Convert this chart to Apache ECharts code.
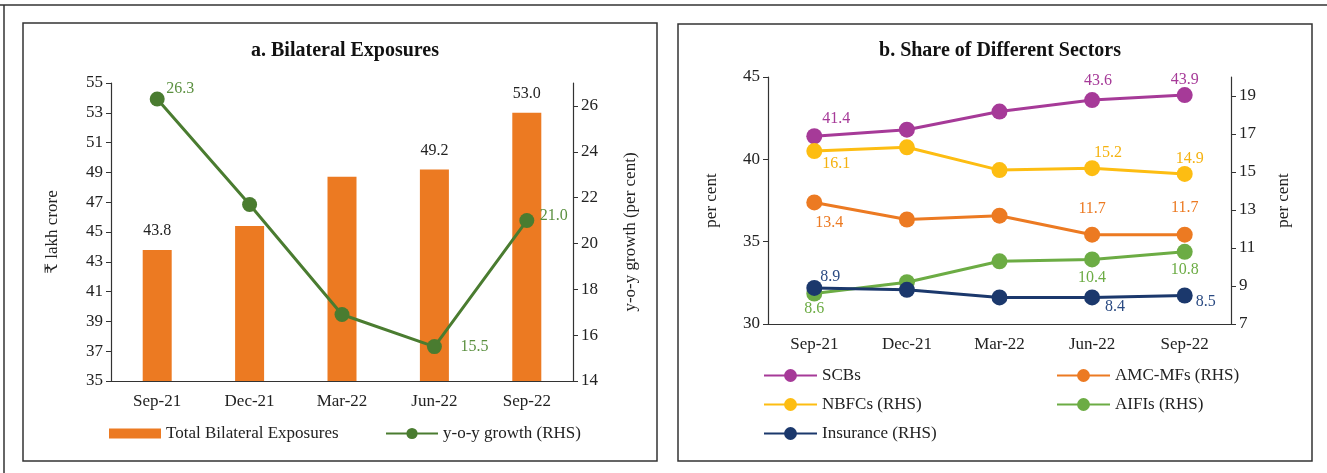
<!DOCTYPE html>
<html>
<head>
<meta charset="utf-8">
<script src="https://cdn.jsdelivr.net/npm/echarts@6/dist/echarts.min.js"></script>
<style>
  html, body { margin: 0; padding: 0; background: #fff; }
  #main { width: 1327px; height: 473px; }
</style>
</head>
<body>
<div id="main"></div>
<script>
// data
const categories = ['Sep-21', 'Dec-21', 'Mar-22', 'Jun-22', 'Sep-22']
const totalExposures = [43.8, 45.4, 48.7, 49.2, 53.0]
const yoyGrowth = [26.3, 21.7, 16.9, 15.5, 21.0]
const scbs = [41.4, 41.8, 42.9, 43.6, 43.9]
const nbfcs = [16.1, 16.3, 15.1, 15.2, 14.9]
const amcMfs = [13.4, 12.5, 12.7, 11.7, 11.7]
const aifis = [8.6, 9.2, 10.3, 10.4, 10.8]
const insurance = [8.9, 8.8, 8.4, 8.4, 8.5]
const ticksA = [35, 37, 39, 41, 43, 45, 47, 49, 51, 53, 55]
const ticksARight = [14, 16, 18, 20, 22, 24, 26]
const ticksB = [30, 35, 40, 45]
const ticksBRight = [7, 9, 11, 13, 15, 17, 19]

const FONT = '"Liberation Serif", "DejaVu Serif", "Noto Sans", serif'
const TXT = '#222'

// which points get a value label, and where (offset from marker centre)
const labelSpots = {
  yoy: { 0: [23, -10], 3: [40, 0], 4: [27, -5] },
  scbs: { 0: [22, -17], 3: [6, -19], 4: [0, -15] },
  nbfcs: { 0: [22, 13], 3: [16, -15], 4: [5, -15] },
  amc: { 0: [15, 20], 3: [0, -26], 4: [0, -27] },
  aifis: { 0: [0, 15], 3: [0, 18], 4: [0, 18] },
  ins: { 0: [16, -11], 3: [23, 9], 4: [21, 6] }
}
const barLabelIdx = [0, 3, 4]

function withLabels (values, spots, color) {
  return values.map((v, i) => spots[i]
    ? { value: v, label: { show: true, position: 'inside', offset: spots[i], color: color, fontSize: 16, fontFamily: FONT, formatter: p => p.value.toFixed(1) } }
    : v)
}

function yAxis (grid, min, max, interval, ticks, name, right, nameGap) {
  return {
    type: 'value',
    gridIndex: grid,
    position: right ? 'right' : 'left',
    min: min,
    max: max,
    interval: interval,
    name: name,
    nameLocation: 'middle',
    nameGap: nameGap,
    nameTextStyle: { fontFamily: FONT, fontSize: 17, color: TXT },
    axisLine: { show: true, lineStyle: { color: '#333', width: 1.2 } },
    axisTick: { show: true, length: 5, lineStyle: { color: '#333' }, customValues: ticks },
    axisLabel: { fontFamily: FONT, fontSize: 17, color: TXT, margin: 8, customValues: ticks },
    splitLine: { show: false }
  }
}

function xAxis (grid) {
  return {
    type: 'category',
    gridIndex: grid,
    data: categories,
    axisLine: { lineStyle: { color: '#333', width: 1.2 } },
    axisTick: { length: 6, lineStyle: { color: '#333' } },
    axisLabel: { fontFamily: FONT, fontSize: 17, color: TXT, margin: 12 }
  }
}

function sectorLine (name, values, color, labelColor, axis, spots) {
  return {
    name: name,
    type: 'line',
    xAxisIndex: 1,
    yAxisIndex: axis,
    data: withLabels(values, spots, labelColor),
    symbol: 'circle',
    symbolSize: 16,
    lineStyle: { color: color, width: 3 },
    itemStyle: { color: color },
    emphasis: { disabled: true }
  }
}

const legendText = { fontFamily: FONT, fontSize: 17, color: TXT }

const myChart = echarts.init(document.getElementById('main'))
myChart.setOption({
  animation: false,
  title: [
    { text: 'a. Bilateral Exposures', left: 340, top: 36, textAlign: 'center', textStyle: { fontFamily: FONT, fontSize: 20, fontWeight: 'bold', color: '#111' } },
    { text: 'b. Share of Different Sectors', left: 995, top: 36, textAlign: 'center', textStyle: { fontFamily: FONT, fontSize: 20, fontWeight: 'bold', color: '#111' } }
  ],
  graphic: [
    { type: 'line', shape: { x1: 0, y1: 5, x2: 1327, y2: 5 }, style: { stroke: '#333', lineWidth: 1.5 } },
    { type: 'line', shape: { x1: 4, y1: 5, x2: 4, y2: 473 }, style: { stroke: '#333', lineWidth: 1.5 } },
    { type: 'rect', shape: { x: 23, y: 23, width: 634, height: 438 }, style: { fill: 'none', stroke: '#333', lineWidth: 1.5 } },
    { type: 'rect', shape: { x: 678, y: 24, width: 634, height: 437 }, style: { fill: 'none', stroke: '#333', lineWidth: 1.5 } }
  ],
  legend: [
    { left: 104, top: 420, itemWidth: 52, itemHeight: 10, itemGap: 10, textStyle: legendText, data: [{ name: 'Total Bilateral Exposures', icon: 'rect' }] },
    { left: 380, top: 420, itemWidth: 52, itemHeight: 14, textStyle: legendText, data: ['y-o-y growth (RHS)'] },
    { left: 758, top: 362, orient: 'vertical', itemGap: 12, itemWidth: 53, itemHeight: 16, textStyle: legendText, data: ['SCBs', 'NBFCs (RHS)', 'Insurance (RHS)'] },
    { left: 1051, top: 362, orient: 'vertical', itemGap: 12, itemWidth: 53, itemHeight: 16, textStyle: legendText, data: ['AMC-MFs (RHS)', 'AIFIs (RHS)'] }
  ],
  grid: [
    { left: 111, right: 754, top: 83, bottom: 92 },
    { left: 768, right: 96, top: 77, bottom: 149 }
  ],
  xAxis: [xAxis(0), xAxis(1)],
  yAxis: [
    yAxis(0, 35, 55, 2, ticksA, '₹ lakh crore', false, 50),
    yAxis(0, 14, 27, 2, ticksARight, 'y-o-y growth (per cent)', true, 49),
    yAxis(1, 30, 45, 5, ticksB, 'per cent', false, 48),
    yAxis(1, 7, 20, 2, ticksBRight, 'per cent', true, 44)
  ],
  series: [
    {
      name: 'Total Bilateral Exposures',
      type: 'bar',
      xAxisIndex: 0,
      yAxisIndex: 0,
      barWidth: 29,
      itemStyle: { color: '#EC7A22' },
      data: totalExposures.map((v, i) => barLabelIdx.includes(i)
        ? { value: v, label: { show: true, position: 'top', distance: 11, color: TXT, fontSize: 16, fontFamily: FONT, formatter: p => p.value.toFixed(1) } }
        : v),
      emphasis: { disabled: true }
    },
    {
      name: 'y-o-y growth (RHS)',
      type: 'line',
      xAxisIndex: 0,
      yAxisIndex: 1,
      symbol: 'circle',
      symbolSize: 15,
      lineStyle: { color: '#4A7C30', width: 3 },
      itemStyle: { color: '#4A7C30' },
      data: withLabels(yoyGrowth, labelSpots.yoy, '#5B9040'),
      emphasis: { disabled: true }
    },
    sectorLine('SCBs', scbs, '#A63A98', '#A63A98', 2, labelSpots.scbs),
    sectorLine('NBFCs (RHS)', nbfcs, '#FDBD12', '#F5B210', 3, labelSpots.nbfcs),
    sectorLine('AMC-MFs (RHS)', amcMfs, '#EC7A22', '#EC7A22', 3, labelSpots.amc),
    sectorLine('AIFIs (RHS)', aifis, '#6CAC44', '#6CAC44', 3, labelSpots.aifis),
    sectorLine('Insurance (RHS)', insurance, '#1B386C', '#2A4A82', 3, labelSpots.ins)
  ]
})
</script>
</body>
</html>
